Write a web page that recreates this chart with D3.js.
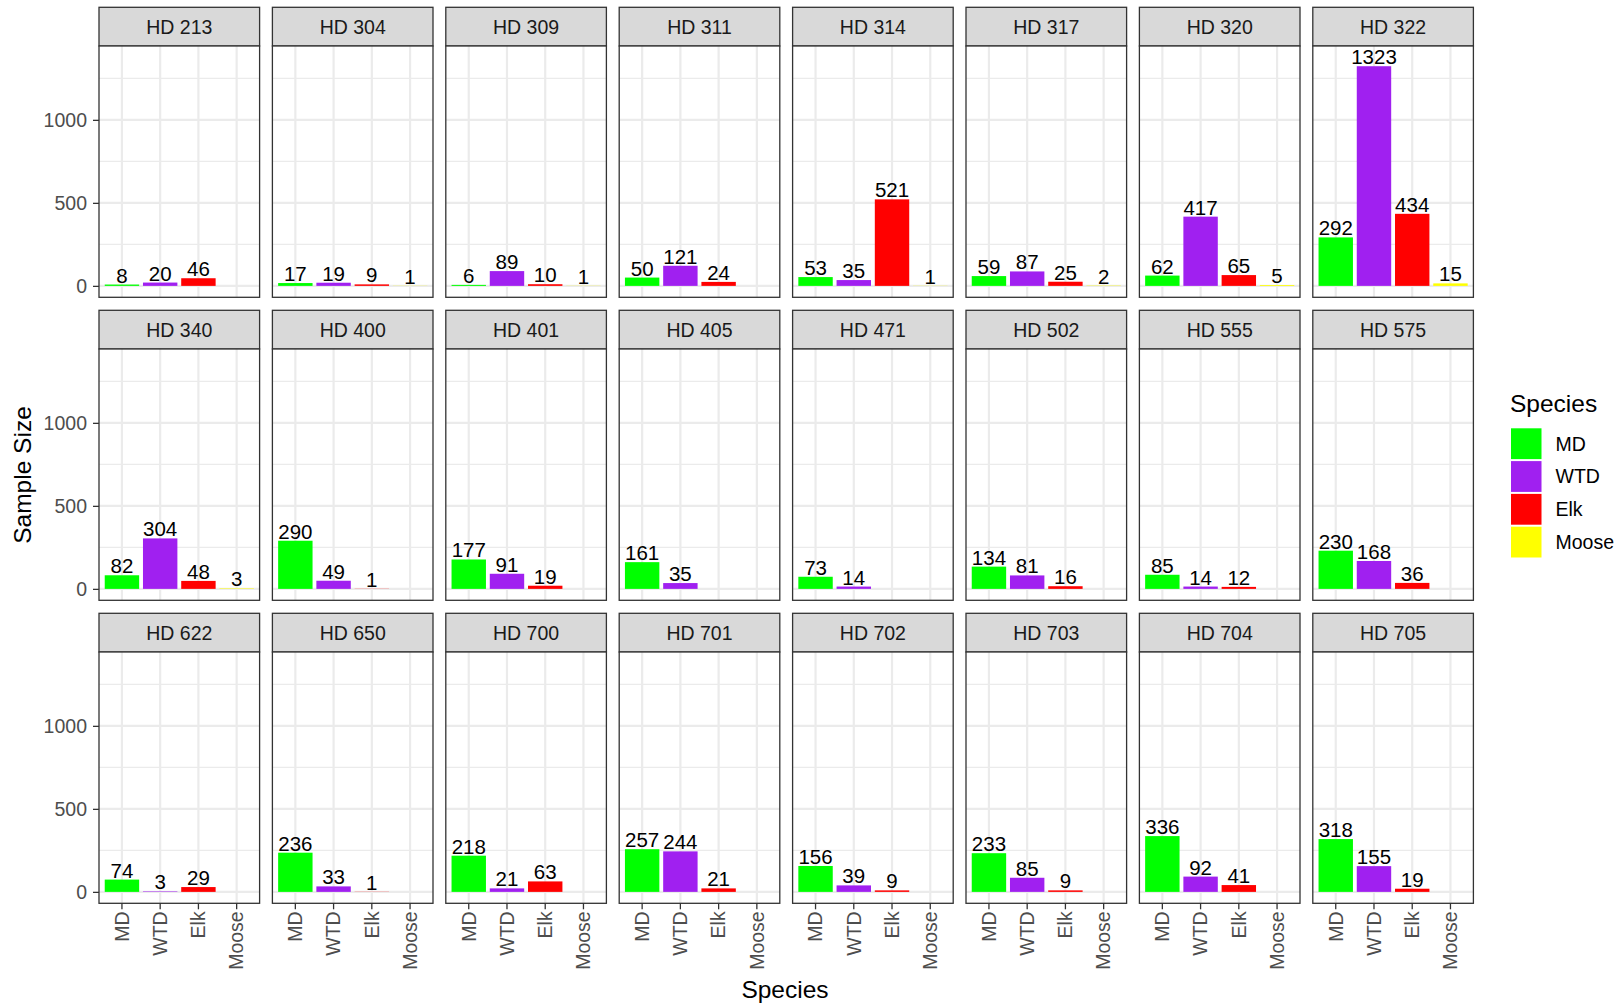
<!DOCTYPE html>
<html>
<head>
<meta charset="utf-8">
<script src="https://cdn.jsdelivr.net/npm/d3@7"></script>
<style>
  html, body { margin: 0; padding: 0; background: #ffffff; }
  svg { display: block; font-family: "Liberation Sans", Arial, sans-serif; }
</style>
</head>
<body>
<svg id="chart" width="1619" height="1007"></svg>
<script>
// Hunt districts shown as facets, in reading order (8 per row)
const districts = [
  "HD 213", "HD 304", "HD 309", "HD 311", "HD 314", "HD 317", "HD 320", "HD 322",
  "HD 340", "HD 400", "HD 401", "HD 405", "HD 471", "HD 502", "HD 555", "HD 575",
  "HD 622", "HD 650", "HD 700", "HD 701", "HD 702", "HD 703", "HD 704", "HD 705"
];
const species = ["MD", "WTD", "Elk", "Moose"];
const speciesColors = ["#00FF00", "#A020F0", "#FF0000", "#FFFF00"];

// Sample sizes per district (null = no samples)
const mdCounts    = [8, 17, 6, 50, 53, 59, 62, 292,   82, 290, 177, 161, 73, 134, 85, 230,   74, 236, 218, 257, 156, 233, 336, 318];
const wtdCounts   = [20, 19, 89, 121, 35, 87, 417, 1323,   304, 49, 91, 35, 14, 81, 14, 168,   3, 33, 21, 244, 39, 85, 92, 155];
const elkCounts   = [46, 9, 10, 24, 521, 25, 65, 434,   48, 1, 19, null, null, 16, 12, 36,   29, 1, 63, 21, 9, 9, 41, 19];
const mooseCounts = [null, 1, 1, null, 1, 2, 5, 15,   3, null, null, null, null, null, null, null,   null, null, null, null, null, null, null, null];

const yTicks = [0, 500, 1000];
const yMinorTicks = [250, 750, 1250];

const seriesBySpecies = [mdCounts, wtdCounts, elkCounts, mooseCounts];

// Layout
const nCols = 8;
const panelLeft = 99;
const panelStep = 173.4;
const panelW = 160.6;
const stripTop = 7.3;
const rowStep = 303;
const stripH = 38.7;
const panelH = 251.3;

const svg = d3.select("#chart");

const y = d3.scaleLinear().domain([-68.8, 1444.8]).range([panelH, 0]);
const x = d3.scaleBand().domain(species).range([0, panelW])
  .paddingInner(0.1).paddingOuter(0.15);

const gridColor = "#EBEBEB";
const frameColor = "#333333";

districts.forEach((name, i) => {
  const col = i % nCols;
  const row = Math.floor(i / nCols);
  const left = panelLeft + col * panelStep;
  const top = stripTop + row * rowStep;
  const g = svg.append("g").attr("transform", `translate(${left},${top})`);

  // strip
  g.append("rect")
    .attr("x", 0).attr("y", 0).attr("width", panelW).attr("height", stripH)
    .attr("fill", "#D9D9D9").attr("stroke", frameColor).attr("stroke-width", 1.3);
  g.append("text")
    .attr("x", panelW / 2).attr("y", stripH / 2 + 7)
    .attr("text-anchor", "middle")
    .attr("font-size", 19.5).attr("fill", "#1A1A1A")
    .text(name);

  const p = g.append("g").attr("transform", `translate(0,${stripH})`);

  // background + grid
  p.append("rect").attr("width", panelW).attr("height", panelH).attr("fill", "#ffffff");
  p.selectAll("line.ymin").data(yMinorTicks).join("line")
    .attr("x1", 0).attr("x2", panelW)
    .attr("y1", d => y(d)).attr("y2", d => y(d))
    .attr("stroke", gridColor).attr("stroke-width", 1.1);
  p.selectAll("line.ymaj").data(yTicks).join("line")
    .attr("x1", 0).attr("x2", panelW)
    .attr("y1", d => y(d)).attr("y2", d => y(d))
    .attr("stroke", gridColor).attr("stroke-width", 2.2);
  p.selectAll("line.xmaj").data(species).join("line")
    .attr("x1", d => x(d) + x.bandwidth() / 2).attr("x2", d => x(d) + x.bandwidth() / 2)
    .attr("y1", 0).attr("y2", panelH)
    .attr("stroke", gridColor).attr("stroke-width", 2.2);

  // bars
  const rows = species.map((s, k) => ({ s, v: seriesBySpecies[k][i], c: speciesColors[k] }))
    .filter(d => d.v !== null);
  p.selectAll("rect.bar").data(rows).join("rect")
    .attr("class", "bar")
    .attr("x", d => x(d.s)).attr("width", x.bandwidth())
    .attr("y", d => y(d.v)).attr("height", d => y(0) - y(d.v))
    .attr("fill", d => d.c);
  p.selectAll("text.lbl").data(rows).join("text")
    .attr("class", "lbl")
    .attr("x", d => x(d.s) + x.bandwidth() / 2)
    .attr("y", d => y(d.v) - 2)
    .attr("text-anchor", "middle")
    .attr("font-size", 20.5).attr("fill", "#000000")
    .text(d => d.v);

  // panel frame
  p.append("rect").attr("width", panelW).attr("height", panelH)
    .attr("fill", "none").attr("stroke", frameColor).attr("stroke-width", 1.3);

  // y axis on left column
  if (col === 0) {
    const ax = p.append("g").call(d3.axisLeft(y).tickValues(yTicks)
      .tickFormat(d3.format("d")).tickSize(6).tickPadding(6));
    ax.select(".domain").remove();
    ax.selectAll("line").attr("stroke", frameColor).attr("stroke-width", 1.3);
    ax.selectAll("text").attr("font-size", 19.5).attr("fill", "#4D4D4D")
      .attr("font-family", "Liberation Sans, Arial, sans-serif");
  }
  // x axis on bottom row
  if (row === 2) {
    const ax = p.append("g").attr("transform", `translate(0,${panelH})`)
      .call(d3.axisBottom(x).tickSize(6).tickPadding(6));
    ax.select(".domain").remove();
    ax.selectAll("line").attr("stroke", frameColor).attr("stroke-width", 1.3);
    ax.selectAll("text")
      .attr("font-size", 19.5).attr("fill", "#4D4D4D")
      .attr("font-family", "Liberation Sans, Arial, sans-serif")
      .attr("transform", "rotate(-90)")
      .attr("text-anchor", "end")
      .attr("dy", "0.35em")
      .attr("x", -8).attr("y", 0);
  }
});

// axis titles
svg.append("text")
  .attr("x", 785).attr("y", 998)
  .attr("text-anchor", "middle").attr("font-size", 24.5).attr("fill", "#000")
  .text("Species");
svg.append("text")
  .attr("transform", "translate(30.5,475) rotate(-90)")
  .attr("text-anchor", "middle").attr("font-size", 24.5).attr("fill", "#000")
  .text("Sample Size");

// legend
const legend = svg.append("g").attr("transform", "translate(1511,0)");
legend.append("text")
  .attr("x", -1).attr("y", 412)
  .attr("font-size", 24.5).attr("fill", "#000")
  .text("Species");
const keys = legend.selectAll("g.key").data(species).join("g")
  .attr("class", "key")
  .attr("transform", (d, k) => `translate(0,${428.3 + k * 32.8})`);
keys.append("rect")
  .attr("width", 30.5).attr("height", 30.8)
  .attr("fill", (d, k) => speciesColors[k]);
keys.append("text")
  .attr("x", 44.5).attr("y", 15.4).attr("dy", "0.35em")
  .attr("font-size", 19.5).attr("fill", "#000")
  .text(d => d);
</script>
</body>
</html>
